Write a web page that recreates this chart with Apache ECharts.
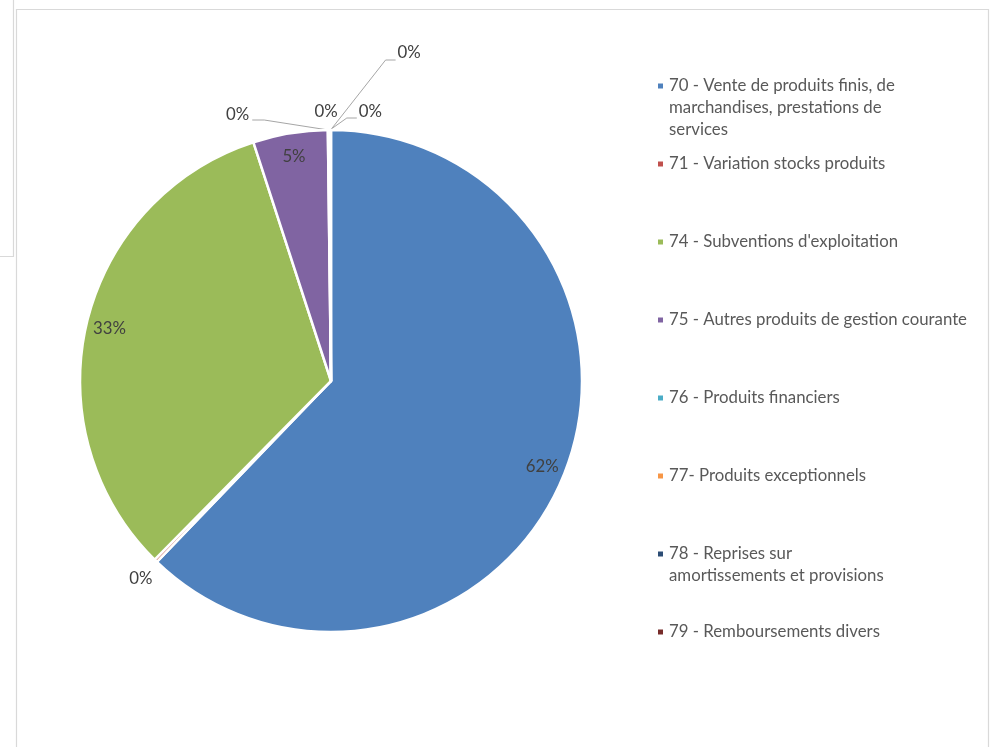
<!DOCTYPE html>
<html><head><meta charset="utf-8">
<script src="https://cdn.jsdelivr.net/npm/echarts@6/dist/echarts.min.js"></script>
<style>html,body{margin:0;padding:0;background:#fff}#c{width:995px;height:747px}</style>
</head><body><div id="c"></div>
<script>
// ---- data ----
const categories = [
  '70 - Vente de produits finis, de marchandises, prestations de services',
  '71 - Variation stocks produits',
  "74 - Subventions d'exploitation",
  '75 - Autres produits de gestion courante',
  '76 - Produits financiers',
  '77- Produits exceptionnels',
  '78 - Reprises sur amortissements et provisions',
  '79 - Remboursements divers'
];
const values = [62.2, 0.2, 32.6, 4.8, 0.05, 0.05, 0.05, 0.05];
const legendText = [
  '70 - Vente de produits finis, de\nmarchandises, prestations de\nservices',
  '71 - Variation stocks produits',
  "74 - Subventions d'exploitation",
  '75 - Autres produits de gestion courante',
  '76 - Produits financiers',
  '77- Produits exceptionnels',
  '78 - Reprises sur\namortissements et provisions',
  '79 - Remboursements divers'
];
const colors = ['#4F81BD','#C0504D','#9BBB59','#8064A2','#4BACC6','#F79646','#2C4D75','#772C2A'];

// ---- style / layout ----
const FONT = 'Lato';
const FS = 16.8;
const LH = 22;
const CENTER = [331, 381];
const R = 251;
const pct = p => Math.round(p.percent) + '%';

// leader-line geometry for the small outside labels (offsets from the arc anchor)
const smallLabelStyle = {
  1: { dx: -15, dy: 18, align: 'center' },
  4: { line: [-64, -10, -12], gap: 3, dy: -5, align: 'right' },
  5: { dx: -3, dy: -18, align: 'center' },
  6: { line: [17, -12, 10], gap: 2, dy: -6, align: 'left' },
  7: { line: [55, -70, 10], gap: 2, dy: -7, align: 'left' }
};

const mainData = values.map((v, i) => ({
  name: categories[i], value: v,
  itemStyle: { color: colors[i] },
  label: { show: v < 1 }
}));
const labelData = values.map((v, i) => ({
  name: categories[i], value: v,
  label: { show: v >= 1 }
}));

// one legend per entry, so that entries sit at an even pitch whatever their line count;
// blank leading lines keep the icon beside the first text line
const legends = categories.map((name, i) => {
  const n = legendText[i].split('\n').length;
  const c = 86 + 78 * i;
  return {
    orient: 'vertical', left: 656, top: c - (2 * n - 1) * LH / 2, padding: 0,
    itemWidth: 7, itemHeight: 7, icon: 'rect',
    selectedMode: false,
    textStyle: { fontFamily: FONT, fontSize: FS, color: '#595959', lineHeight: LH },
    formatter: nm => {
      const k = categories.indexOf(nm);
      const t = legendText[k];
      return '\n'.repeat(t.split('\n').length - 1) + t;
    },
    data: [name]
  };
});

const chart = echarts.init(document.getElementById('c'), null, { renderer: 'canvas' });
chart.setOption({
  animation: false,
  backgroundColor: '#fff',
  graphic: [
    { type: 'rect', silent: true, shape: { x: 16.5, y: 9.5, width: 972, height: 760 },
      style: { fill: 'none', stroke: '#d9d9d9', lineWidth: 1.2 } },
    { type: 'rect', silent: true, shape: { x: -3, y: -3, width: 16.5, height: 259.5 },
      style: { fill: 'none', stroke: '#d9d9d9', lineWidth: 1.2 } }
  ],
  legend: legends,
  series: [
    {
      type: 'pie', center: CENTER, radius: R, startAngle: 90, clockwise: true,
      avoidLabelOverlap: false,
      itemStyle: { borderColor: '#fff', borderWidth: 2.5 },
      emphasis: { disabled: true },
      label: { show: true, position: 'outside', formatter: pct,
        fontFamily: FONT, fontSize: FS, color: '#404040' },
      labelLine: { show: true, length: 10, length2: 10, smooth: false,
        lineStyle: { color: '#a6a6a6', width: 1 } },
      labelLayout: function (params) {
        const s = smallLabelStyle[params.dataIndex];
        if (!s || !params.labelLinePoints) return {};
        const p0 = params.labelLinePoints[0];
        if (!s.line) {
          return { x: p0[0] + s.dx, y: p0[1] + s.dy, align: s.align, verticalAlign: 'middle',
                   labelLinePoints: [p0, p0] };
        }
        const p1 = [p0[0] + s.line[0], p0[1] + s.line[1]];
        const p2 = [p1[0] + s.line[2], p1[1]];
        const sign = s.line[2] < 0 ? -1 : 1;
        return { x: p2[0] + sign * s.gap, y: p2[1] + s.dy, align: s.align, verticalAlign: 'middle',
                 labelLinePoints: [p0, p1, p2] };
      },
      data: mainData
    },
    {
      type: 'pie', center: CENTER, radius: [R * 0.8, R * 0.99], startAngle: 90, clockwise: true,
      silent: true, emphasis: { disabled: true },
      itemStyle: { color: 'rgba(0,0,0,0)', borderWidth: 0 },
      label: { show: true, position: 'inside', formatter: pct,
        fontFamily: FONT, fontSize: FS, color: '#404040' },
      labelLine: { show: false },
      data: labelData
    }
  ]
});
</script>
</body></html>
